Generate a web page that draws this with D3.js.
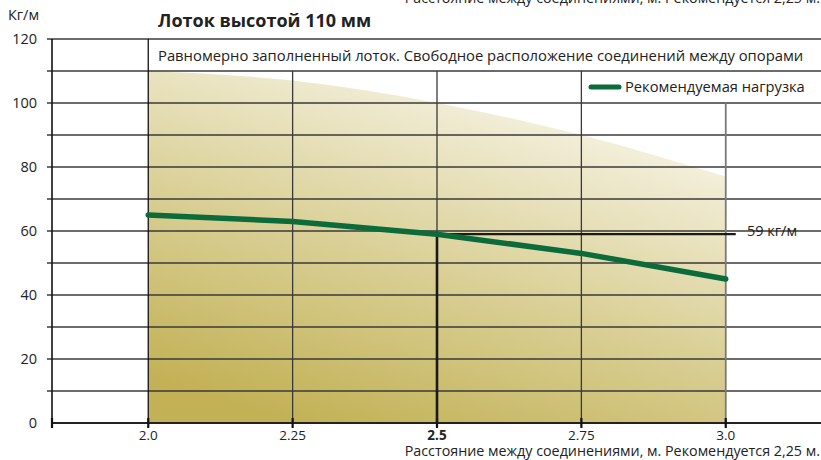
<!DOCTYPE html>
<html><head><meta charset="utf-8">
<script src="https://cdn.jsdelivr.net/npm/d3@7"></script>
<style>
html,body{margin:0;padding:0;background:#fff;}
svg{display:block;font-family:"Open Sans","Noto Sans",sans-serif;}
</style></head>
<body><svg id="chart" width="821" height="460"></svg>
<script>
const spans = [2.0, 2.25, 2.5, 2.75, 3.0];
const spanLabels = ["2.0", "2.25", "2.5", "2.75", "3.0"];
const recommendedLoad = [65, 63, 59, 53, 45];
const envelopeMax = [110, 107, 100, 90, 77];
const yTickValues = [0,10,20,30,40,50,60,70,80,90,100,110,120];
const yLabelValues = [0,20,40,60,80,100,120];
const markSpan = 2.5;
const markLoad = 59;
const titleText = "Лоток высотой 110 мм";
const subtitleText = "Равномерно заполненный лоток. Свободное расположение соединений между опорами";
const legendText = "Рекомендуемая нагрузка";
const unitText = "Кг/м";
const markText = "59 кг/м";
const xTitleText = "Расстояние между соединениями, м. Рекомендуется 2,25 м.";

const svg = d3.select("#chart");
const x = d3.scaleLinear().domain([11/6, 19/6]).range([52, 822]);
const y = d3.scaleLinear().domain([0, 120]).range([423, 39]);
const right = 821;

// gradient
const defs = svg.append("defs");
const g = defs.append("linearGradient").attr("id","fillGrad")
  .attr("x1","0.25").attr("y1","1").attr("x2","0.75").attr("y2","0");
g.append("stop").attr("offset","0").attr("stop-color","#c2b155");
g.append("stop").attr("offset","0.5").attr("stop-color","#ddd49f");
g.append("stop").attr("offset","1").attr("stop-color","#fbf9f0");

const idx = d3.range(spans.length);
svg.append("path")
  .attr("d", d3.area().x(i=>x(spans[i])).y0(y(0)).y1(i=>y(envelopeMax[i])).curve(d3.curveMonotoneX)(idx))
  .attr("fill","url(#fillGrad)");

svg.append("rect").attr("x", x(2.0)).attr("y", y(120)).attr("width", right - x(2.0)).attr("height", y(110)-y(120)).attr("fill","#fff");

// horizontal gridlines
svg.append("g").selectAll("line").data(yTickValues.filter(v=>v>0)).join("line")
  .attr("x1", 47).attr("x2", right).attr("y1", d=>y(d)).attr("y2", d=>y(d))
  .attr("stroke","#3a3a3a").attr("stroke-width",1.3);

// vertical gridlines
const vTop = [120, 110, 110, 110, 100];
svg.append("g").selectAll("line").data(idx).join("line")
  .attr("x1", i=>x(spans[i])).attr("x2", i=>x(spans[i]))
  .attr("y1", i=>y(vTop[i])).attr("y2", y(0))
  .attr("stroke", i=> i===0 ? "#111" : (i===4 ? "#7a7a7a" : "#3a3a3a"))
  .attr("stroke-width", i=> i===4 ? 1.8 : 1.3);

// axes
svg.append("line").attr("x1",52).attr("x2",52).attr("y1",y(120)).attr("y2",y(0)+4).attr("stroke","#111").attr("stroke-width",1.6);
svg.append("line").attr("x1",52).attr("x2",right).attr("y1",y(0)).attr("y2",y(0)).attr("stroke","#222").attr("stroke-width",1.8);
svg.append("g").selectAll("line").data([11/6].concat(spans)).join("line")
  .attr("x1", d=>x(d)).attr("x2", d=>x(d)).attr("y1", y(0)-5).attr("y2", y(0)+5)
  .attr("stroke","#111").attr("stroke-width",2.2);

// y labels
svg.append("g").selectAll("text").data(yLabelValues).join("text")
  .attr("x", 37).attr("y", d=>y(d)).attr("dy","0.36em").attr("text-anchor","end")
  .attr("font-size",14.5).attr("fill","#222").text(d=>d);

// x labels
svg.append("g").selectAll("text").data(idx).join("text")
  .attr("x", i=>x(spans[i])).attr("y", 440).attr("text-anchor","middle")
  .attr("font-size",13.5).attr("font-weight", i=>spans[i]===markSpan?"bold":"normal")
  .attr("fill","#222").text(i=>spanLabels[i]);

// mark lines
svg.append("line").attr("x1", x(markSpan)).attr("x2", x(markSpan)).attr("y1", y(markLoad)).attr("y2", y(0))
  .attr("stroke","#1a1a1a").attr("stroke-width",2.6);
svg.append("line").attr("x1", x(markSpan)-1.3).attr("x2", x(3.0)+10).attr("y1", y(markLoad)).attr("y2", y(markLoad))
  .attr("stroke","#1a1a1a").attr("stroke-width",2.2);
svg.append("text").attr("x", 747).attr("y", y(markLoad)).attr("dy","0.1em").attr("font-size",14.5).attr("fill","#222").text(markText);

// recommended load line
svg.append("path")
  .attr("d", d3.line().x(i=>x(spans[i])).y(i=>y(recommendedLoad[i]))(idx))
  .attr("fill","none").attr("stroke","#0b6b3a").attr("stroke-width",5.5).attr("stroke-linecap","round");

// legend
svg.append("line").attr("x1",591).attr("x2",619).attr("y1",87).attr("y2",87)
  .attr("stroke","#0b6b3a").attr("stroke-width",5).attr("stroke-linecap","round");
svg.append("text").attr("x",625).attr("y",92).attr("font-size",14.7).attr("fill","#222").text(legendText);

// subtitle
svg.append("text").attr("x",158).attr("y",61).attr("font-size",14.8).attr("fill","#222").text(subtitleText);

// title
svg.append("text").attr("x",158).attr("y",27).attr("font-size",18).attr("font-weight","bold").attr("fill","#222").text(titleText);
svg.append("text").attr("x",8).attr("y",20).attr("font-size",14.5).attr("fill","#222").text(unitText);
// x title (bottom and clipped top copy)
svg.append("text").attr("x",820).attr("y",456).attr("text-anchor","end").attr("font-size",14.3).attr("fill","#222").text(xTitleText);
svg.append("text").attr("x",820).attr("y",3).attr("text-anchor","end").attr("font-size",14.3).attr("fill","#222").text(xTitleText);
</script></body></html>
